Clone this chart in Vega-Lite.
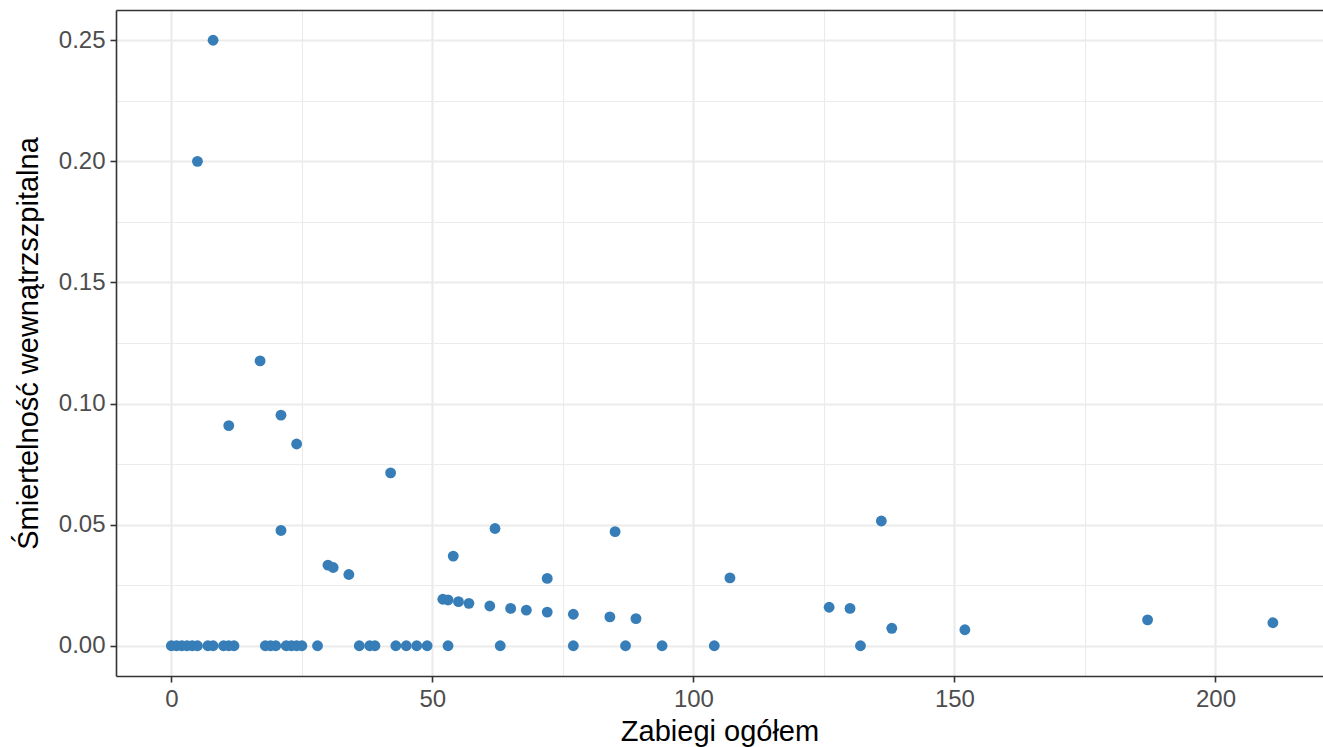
{
  "$schema": "https://vega.github.io/schema/vega-lite/v6.json",
  "width": 1207,
  "height": 666,
  "autosize": {"type": "none"},
  "padding": {"left": 116, "top": 10, "right": 0, "bottom": 71},
  "background": "white",
  "config": {
    "view": {"stroke": null},
    "font": "Liberation Sans"
  },
  "data": {
    "values": [
      {"zab": 0, "sm": 0}, {"zab": 1, "sm": 0}, {"zab": 2, "sm": 0}, {"zab": 3, "sm": 0},
      {"zab": 4, "sm": 0}, {"zab": 5, "sm": 0}, {"zab": 7, "sm": 0}, {"zab": 8, "sm": 0},
      {"zab": 10, "sm": 0}, {"zab": 11, "sm": 0}, {"zab": 12, "sm": 0}, {"zab": 18, "sm": 0},
      {"zab": 19, "sm": 0}, {"zab": 20, "sm": 0}, {"zab": 22, "sm": 0}, {"zab": 23, "sm": 0},
      {"zab": 24, "sm": 0}, {"zab": 25, "sm": 0}, {"zab": 28, "sm": 0}, {"zab": 36, "sm": 0},
      {"zab": 38, "sm": 0}, {"zab": 39, "sm": 0}, {"zab": 43, "sm": 0}, {"zab": 45, "sm": 0},
      {"zab": 47, "sm": 0}, {"zab": 49, "sm": 0}, {"zab": 53, "sm": 0}, {"zab": 63, "sm": 0},
      {"zab": 77, "sm": 0}, {"zab": 87, "sm": 0}, {"zab": 94, "sm": 0}, {"zab": 104, "sm": 0},
      {"zab": 132, "sm": 0},
      {"zab": 8, "sm": 0.25}, {"zab": 5, "sm": 0.2}, {"zab": 17, "sm": 0.1176},
      {"zab": 21, "sm": 0.0952}, {"zab": 11, "sm": 0.0909}, {"zab": 24, "sm": 0.0833},
      {"zab": 42, "sm": 0.0714}, {"zab": 21, "sm": 0.0476}, {"zab": 62, "sm": 0.0484},
      {"zab": 85, "sm": 0.0471}, {"zab": 136, "sm": 0.0515}, {"zab": 54, "sm": 0.037},
      {"zab": 30, "sm": 0.0333}, {"zab": 31, "sm": 0.0323}, {"zab": 34, "sm": 0.0294},
      {"zab": 72, "sm": 0.0278}, {"zab": 107, "sm": 0.028}, {"zab": 52, "sm": 0.0192},
      {"zab": 53, "sm": 0.0189}, {"zab": 55, "sm": 0.0182}, {"zab": 57, "sm": 0.0175},
      {"zab": 61, "sm": 0.0164}, {"zab": 65, "sm": 0.0154}, {"zab": 68, "sm": 0.0147},
      {"zab": 72, "sm": 0.0139}, {"zab": 77, "sm": 0.013}, {"zab": 84, "sm": 0.0119},
      {"zab": 89, "sm": 0.0112}, {"zab": 126, "sm": 0.0159}, {"zab": 130, "sm": 0.0154},
      {"zab": 138, "sm": 0.0072}, {"zab": 152, "sm": 0.0066}, {"zab": 187, "sm": 0.0107},
      {"zab": 211, "sm": 0.0095}
    ]
  },
  "resolve": {"axis": {"x": "independent"}},
  "layer": [
    {
      "mark": {"type": "point", "filled": true, "opacity": 1, "size": 118, "color": "#377EB8"},
      "encoding": {
        "x": {
          "field": "zab", "type": "quantitative",
          "scale": {"domain": [-10.6, 220.6], "nice": false, "zero": false},
          "axis": {
            "title": "Zabiegi ogółem",
            "values": [0, 25, 50, 75, 100, 125, 150, 175, 200],
            "labelExpr": "datum.value % 50 === 0 ? datum.label : ''",
            "format": "d",
            "grid": true,
            "gridColor": "#EBEBEB",
            "gridWidth": {"condition": {"test": "datum.value % 50 === 0", "value": 2.2}, "value": 1.1},
            "domainColor": "#333333", "domainWidth": 1.6,
            "tickColor": "#333333", "tickWidth": 1.6, "tickSize": 6,
            "tickOpacity": {"condition": {"test": "datum.value % 50 === 0", "value": 1}, "value": 0},
            "labelFontSize": 24, "labelColor": "#4D4D4D", "labelPadding": 5,
            "labelFont": "Liberation Sans",
            "titleFontSize": 29, "titleColor": "#000000", "titleFontWeight": "normal",
            "titleFont": "Liberation Sans", "titlePadding": 6
          }
        },
        "y": {
          "field": "sm", "type": "quantitative",
          "scale": {"domain": [-0.0125, 0.2625], "nice": false, "zero": false},
          "axis": {
            "title": "Śmiertelność wewnątrzszpitalna",
            "values": [0, 0.025, 0.05, 0.075, 0.1, 0.125, 0.15, 0.175, 0.2, 0.225, 0.25],
            "format": ".2f",
            "labelExpr": "round(datum.value * 1000) % 50 === 0 ? datum.label : ''",
            "grid": true,
            "gridColor": "#EBEBEB",
            "gridWidth": {"condition": {"test": "round(datum.value * 1000) % 50 === 0", "value": 2.2}, "value": 1.1},
            "domainColor": "#333333", "domainWidth": 1.6,
            "tickColor": "#333333", "tickWidth": 1.6, "tickSize": 6,
            "tickOpacity": {"condition": {"test": "round(datum.value * 1000) % 50 === 0", "value": 1}, "value": 0},
            "labelFontSize": 24, "labelColor": "#4D4D4D", "labelPadding": 5,
            "labelFont": "Liberation Sans",
            "titleFontSize": 29, "titleColor": "#000000", "titleFontWeight": "normal",
            "titleFont": "Liberation Sans", "titlePadding": 15
          }
        }
      }
    },
    {
      "mark": {"type": "point", "opacity": 0},
      "encoding": {
        "x": {
          "field": "zab", "type": "quantitative",
          "axis": {
            "orient": "top", "title": null, "labels": false, "ticks": false, "grid": false,
            "domainColor": "#333333", "domainWidth": 1.6
          }
        }
      }
    }
  ]
}
